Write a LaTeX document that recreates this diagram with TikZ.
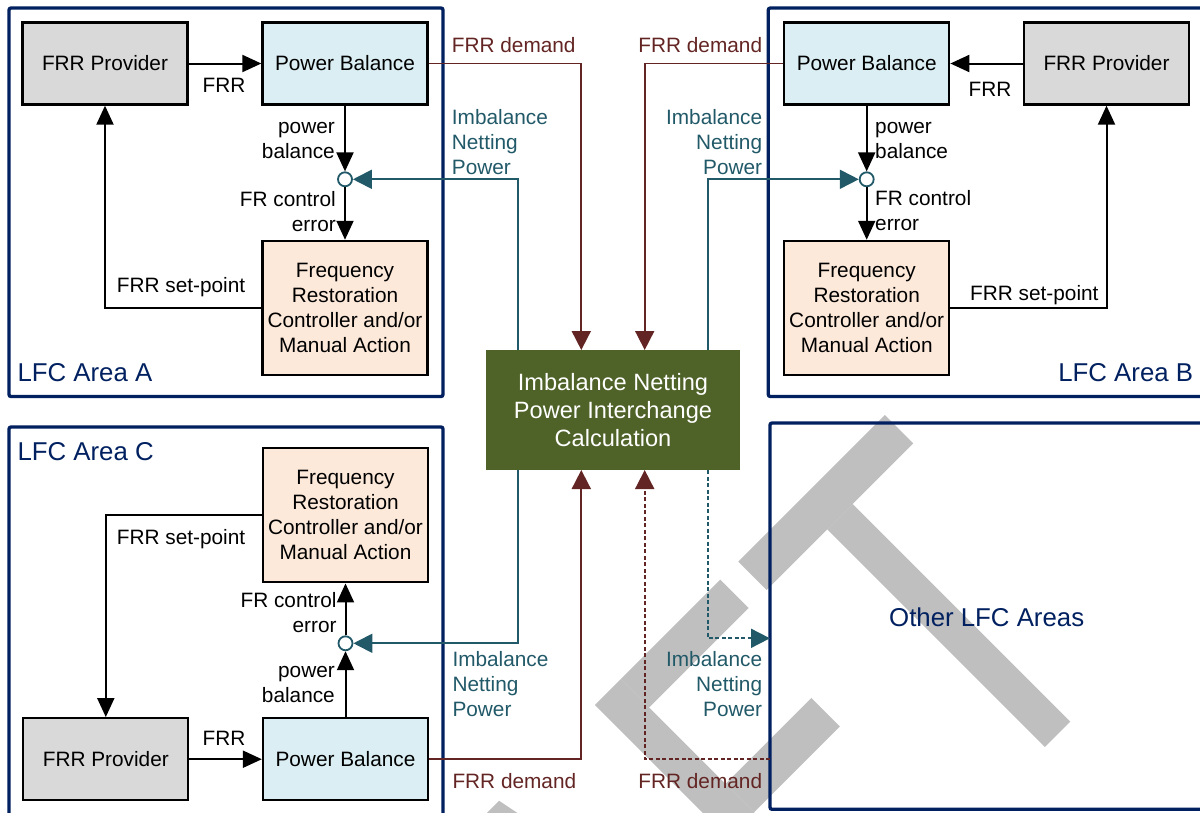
\documentclass[tikz,border=0pt]{standalone}
\usepackage{fontspec}
\setmainfont{Liberation Sans}
\usetikzlibrary{arrows.meta}

\definecolor{navy}{HTML}{002060}
\definecolor{dred}{HTML}{632523}
\definecolor{tealc}{HTML}{215968}
\definecolor{olivec}{HTML}{4F6228}
\definecolor{pbfill}{HTML}{DAEEF3}
\definecolor{provfill}{HTML}{D9D9D9}
\definecolor{frfill}{HTML}{FDE9D9}
\definecolor{wmgray}{HTML}{BFBFBF}

% multi-line labels whose reference point is the first baseline
\newcommand\rlines[1]{\vtop{\halign{\hfil##\cr#1\crcr}}}
\newcommand\llines[1]{\vtop{\halign{##\hfil\cr#1\crcr}}}

\begin{document}
\begin{tikzpicture}[x=1pt, y=-1pt,
  font=\fontsize{20.8}{25}\selectfont,
  box/.style={draw=black, line width=2.3pt, minimum width=165pt, minimum height=82pt,
              inner sep=0pt, align=center},
  prov/.style={box, fill=provfill},
  bal/.style={box, fill=pbfill},
  ctrl/.style={box, fill=frfill, minimum height=134pt},
  sum/.style={circle, draw=tealc, line width=1.8pt, fill=white, minimum size=14pt, inner sep=0pt},
  calcbox/.style={fill=olivec, text=white, minimum width=254pt, minimum height=120pt,
              inner sep=0pt, outer sep=0pt, align=center, font=\fontsize{23.6}{28.3}\selectfont},
  area/.style={draw=navy, line width=3.3pt, rounded corners=2pt},
  areatxt/.style={text=navy, inner sep=0pt, font=\fontsize{25.8}{31}\selectfont},
  lbl/.style={inner sep=0pt},
  dtxt/.style={lbl, text=dred},
  ntxt/.style={lbl, text=tealc},
  flow/.style={line width=2pt, -{Triangle[length=19pt,width=17pt]}},
  demand/.style={draw=dred, line width=1.8pt, -{Triangle[length=19pt,width=19pt]}},
  netting/.style={draw=tealc, line width=1.8pt, -{Triangle[length=19pt,width=19pt]}},
  dashline/.style={dash pattern=on 4pt off 2.5pt},
  wm/.style={fill=wmgray}]

\useasboundingbox (0,0) rectangle (1200,812);
\clip (0,0) rectangle (1200,812);

% grey watermark letters, set on a 45 degree baseline
\begin{scope}[rotate=45]
  \fill[wm] (-240,919.2) -- (-213.3,919.2) -- (-143.7,1267) -- (-183.7,1267) -- cycle;
  \fill[wm] (-77.8,919.2) rectangle (-41.2,1267);
  \fill[wm] (-41.2,919.2) rectangle (99.5,959.2);
  \fill[wm] (-41.2,1067.3) rectangle (80.2,1107.5);
  \fill[wm] (124.9,919.2) rectangle (332.3,959.2);
  \fill[wm] (210.6,959.2) rectangle (246.6,1267);
\end{scope}

% area frames
\draw[area] (9,8) rectangle (443,396.5);
\draw[area] (768.3,8) rectangle (1215,396.5);
\draw[area] (9,427) rectangle (443,825);
\node[area, minimum width=445pt, minimum height=386.3pt, inner sep=0pt, outer sep=0pt,
      anchor=north west] (oth) at (770,423) {};
\coordinate (otin) at (770,638.3);

\node[areatxt, anchor=base west] (tA) at (17.3,381.7) {LFC Area A};
\node[areatxt, anchor=base east] (tB) at (1193.3,381.7) {LFC Area B};
\node[areatxt, anchor=base west] (tC) at (17.3,460) {LFC Area C};
\node[areatxt, anchor=base] (tO) at (986.7,626.7) {Other LFC Areas};

% central calculation
\node[calcbox] (g) at (613,410) {Imbalance Netting\\Power Interchange\\Calculation};

% area A
\node[prov] (pa) at (105,63.5) {FRR Provider};
\node[bal]  (ba) at (345,63.5) {Power Balance};
\node[sum]  (sa) at (345,179.3) {};
\node[ctrl] (fa) at (345,307.9) {Frequency\\Restoration\\Controller and/or\\Manual Action};
\draw[flow] (pa.east) -- (ba.west);
\draw[flow] (ba.south) -- (sa.north);
\draw[flow] (sa.south) -- (fa.north);
\draw[flow] (fa.west) -| (pa.south);
\node[lbl, anchor=base] (lA1) at (224,92) {FRR};
\node[lbl, anchor=base east] (lA2) at (335,133.3) {\rlines{power\cr balance}};
\node[lbl, anchor=base east] (lA3) at (336,206.7) {\rlines{FR control\cr error}};
\node[lbl, anchor=base west] (lA4) at (116.7,292.7) {FRR set-point};

% area B
\node[bal]  (bb) at (866.7,63.5) {Power Balance};
\node[prov] (pb) at (1106.5,63.5) {FRR Provider};
\node[sum]  (sb) at (866.7,179.3) {};
\node[ctrl] (fb) at (866.7,307.9) {Frequency\\Restoration\\Controller and/or\\Manual Action};
\draw[flow] (pb.west) -- (bb.east);
\draw[flow] (bb.south) -- (sb.north);
\draw[flow] (sb.south) -- (fb.north);
\draw[flow] (fb.east) -| (pb.south);
\node[lbl, anchor=base] (lB1) at (990,96) {FRR};
\node[lbl, anchor=base west] (lB2) at (875,133.3) {\llines{power\cr balance}};
\node[lbl, anchor=base west] (lB3) at (875,205.7) {\llines{FR control\cr error}};
\node[lbl, anchor=base west] (lB4) at (970,300) {FRR set-point};

% area C
\node[ctrl] (fc) at (345.5,515.3) {Frequency\\Restoration\\Controller and/or\\Manual Action};
\node[sum]  (sc) at (345.5,643.3) {};
\node[bal]  (bc) at (345.5,759.2) {Power Balance};
\node[prov] (pc) at (105.8,759.2) {FRR Provider};
\draw[flow] (pc.east) -- (bc.west);
\draw[flow] (bc.north) -- (sc.south);
\draw[flow] (sc.north) -- (fc.south);
\draw[flow] (fc.west) -| (pc.north);
\node[lbl, anchor=base] (lC1) at (224,745) {FRR};
\node[lbl, anchor=base east] (lC2) at (335,677.3) {\rlines{power\cr balance}};
\node[lbl, anchor=base east] (lC3) at (336.7,607.3) {\rlines{FR control\cr error}};
\node[lbl, anchor=base west] (lC4) at (116.7,544) {FRR set-point};

% exchanges with the calculation
\draw[demand] (ba.east) -| ([xshift=-31.7pt]g.north);
\draw[demand] (bb.west) -| ([xshift=31.7pt]g.north);
\draw[netting] ([xshift=-95pt]g.north) |- (sa.east);
\draw[netting] ([xshift=95pt]g.north) |- (sb.west);
\draw[demand] (bc.east) -| ([xshift=-31.7pt]g.south);
\draw[netting] ([xshift=-95pt]g.south) |- (sc.east);
\draw[demand, dashline] (oth.west |- bc.east) -| ([xshift=31.7pt]g.south);
\draw[netting, dashline] ([xshift=95pt]g.south) |- (otin);

\node[dtxt, anchor=base west] (dA) at (451.7,52.3) {FRR demand};
\node[dtxt, anchor=base east] (dB) at (762.3,52.3) {FRR demand};
\node[dtxt, anchor=base west] (dC) at (452.3,788.3) {FRR demand};
\node[dtxt, anchor=base east] (dO) at (762.3,788.3) {FRR demand};
\node[ntxt, anchor=base west] (nA) at (451.7,124.3) {\llines{Imbalance\cr Netting\cr Power}};
\node[ntxt, anchor=base east] (nB) at (762.3,124.3) {\rlines{Imbalance\cr Netting\cr Power}};
\node[ntxt, anchor=base west] (nC) at (452.3,666) {\llines{Imbalance\cr Netting\cr Power}};
\node[ntxt, anchor=base east] (nO) at (762.3,666) {\rlines{Imbalance\cr Netting\cr Power}};

\end{tikzpicture}
\end{document}
